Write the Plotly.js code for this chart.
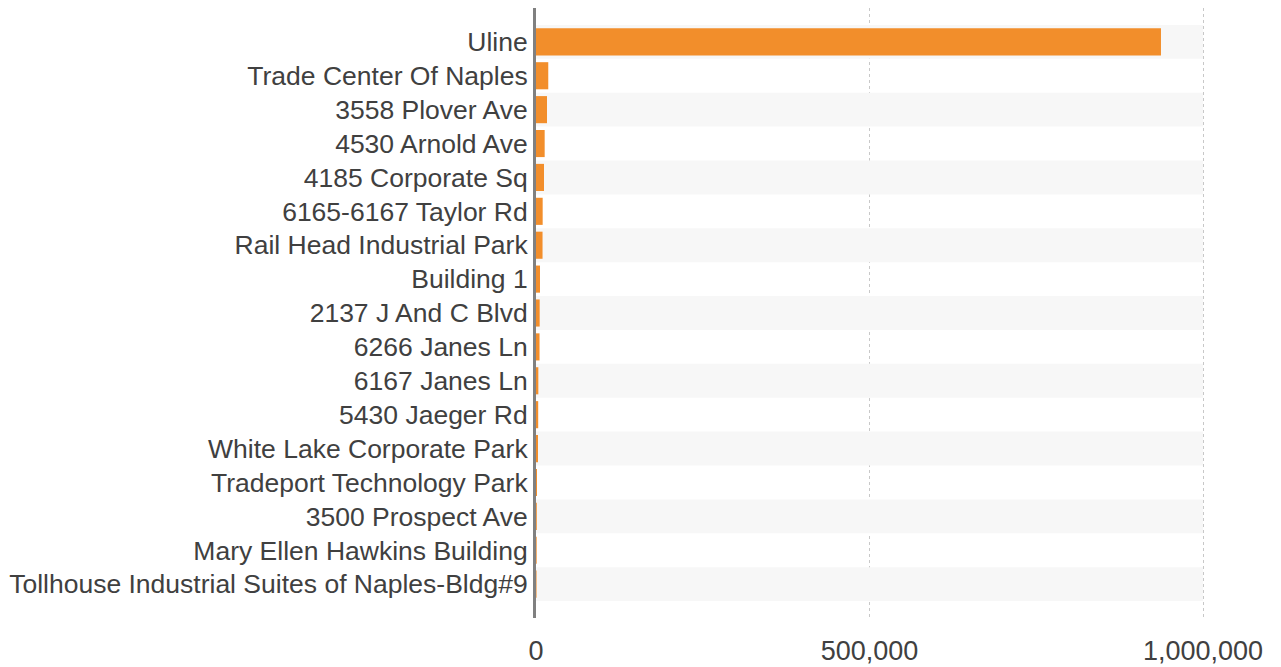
<!DOCTYPE html>
<html>
<head>
<meta charset="utf-8">
<script src="https://cdn.plot.ly/plotly-3.0.1.min.js"></script>
<style>html,body{margin:0;padding:0;background:#fff;}#chart{width:1281px;height:667px;}</style>
</head>
<body>
<div id="chart"></div>
<script>
const categories = [
  "Uline",
  "Trade Center Of Naples",
  "3558 Plover Ave",
  "4530 Arnold Ave",
  "4185 Corporate Sq",
  "6165-6167 Taylor Rd",
  "Rail Head Industrial Park",
  "Building 1",
  "2137 J And C Blvd",
  "6266 Janes Ln",
  "6167 Janes Ln",
  "5430 Jaeger Rd",
  "White Lake Corporate Park",
  "Tradeport Technology Park",
  "3500 Prospect Ave",
  "Mary Ellen Hawkins Building",
  "Tollhouse Industrial Suites of Naples-Bldg#9"
];
const values = [937000, 18400, 16500, 13000, 12000, 10000, 9800, 6000, 5500, 5300, 3500, 3300, 3000, 1500, 1200, 1000, 800];
const tickVals = [0, 500000, 1000000];
const tickText = ["0", "500,000", "1,000,000"];
const bandMax = 1000000;

const idx = categories.map((c, i) => i);
const bandIdx = idx.filter(i => i % 2 === 0);

const bands = {
  type: 'bar', orientation: 'h',
  y: bandIdx, x: bandIdx.map(() => bandMax),
  width: 1, marker: {color: '#f7f7f7', line: {width: 0}},
  hoverinfo: 'skip', showlegend: false
};
const bars = {
  type: 'bar', orientation: 'h',
  y: idx, x: values, width: 0.8,
  marker: {color: '#F28E2B', line: {width: 0}},
  showlegend: false
};

const layout = {
  width: 1281, height: 667,
  margin: {l: 536, r: 72, t: 8, b: 49},
  paper_bgcolor: '#fff', plot_bgcolor: '#fff',
  barmode: 'overlay',
  font: {family: 'Liberation Sans, Arial, sans-serif', color: '#404040'},
  xaxis: {
    range: [0, 1009000],
    tickvals: tickVals, ticktext: tickText,
    showgrid: true, gridcolor: '#c8c8c8', griddash: 'dot', gridwidth: 1,
    zeroline: false, showline: false, ticks: '',
    tickfont: {size: 27, color: '#404040'},
    ticklabelstandoff: 14
  },
  yaxis: {
    range: [16.999, -0.999],
    tickvals: idx, ticktext: categories,
    showgrid: false, zeroline: false,
    showline: true, linecolor: '#808080', linewidth: 3,
    ticks: '',
    tickfont: {size: 26.5, color: '#404040'},
    ticklabelstandoff: 0
  }
};

Plotly.newPlot('chart', [bands, bars], layout, {displayModeBar: false, staticPlot: true});
</script>
</body>
</html>
